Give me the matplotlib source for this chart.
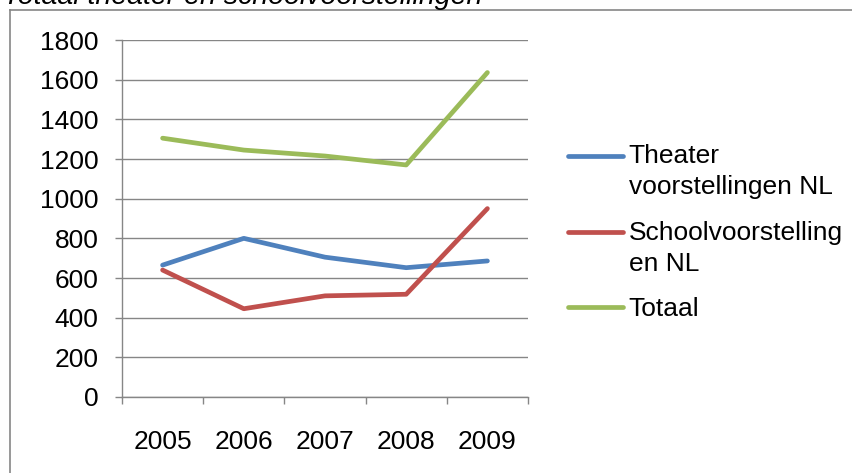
import matplotlib
matplotlib.use("Agg")
import matplotlib.pyplot as plt
from matplotlib.lines import Line2D
from matplotlib.legend_handler import HandlerLine2D

plt.rcParams['font.family'] = ['Liberation Sans', 'DejaVu Sans']

## Data
years = ['2005', '2006', '2007', '2008', '2009']
theater = [665, 800, 705, 652, 686]
school = [640, 445, 510, 518, 950]
totaal = [1305, 1245, 1215, 1170, 1636]
labels = ['Theater\nvoorstellingen NL', 'Schoolvoorstelling\nen NL', 'Totaal']
colors = ['#4F81BD', '#C0504D', '#9BBB59']
grid_col = '#868686'


# legend handle aligned with the first line of a two-line label
class TopLineHandler(HandlerLine2D):
    def __init__(self, shift=0.0, **kw):
        super().__init__(**kw)
        self.shift = shift

    def create_artists(self, legend, orig_handle, xdescent, ydescent,
                       width, height, fontsize, trans):
        arts = super().create_artists(legend, orig_handle, xdescent, ydescent,
                                      width, height, fontsize, trans)
        for a in arts:
            a.set_ydata([y + self.shift for y in a.get_ydata()])
        return arts


W, H = 853, 473
fig = plt.figure(figsize=(W / 100, H / 100), dpi=100)
ax = fig.add_axes([122 / W, 1 - 397 / H, (528 - 122) / W, (397 - 40) / H])

x = range(len(years))
lines = []
for vals, lab, c in zip([theater, school, totaal], labels, colors):
    ln, = ax.plot(x, vals, color=c, lw=3.4, label=lab, solid_capstyle='round',
                  solid_joinstyle='round')
    lines.append(ln)

ax.set_xlim(-0.5, len(years) - 0.5)
ax.set_ylim(0, 1800)
ax.set_yticks(range(0, 1801, 200))
ax.yaxis.grid(True, color=grid_col, lw=1.0)
ax.set_axisbelow(True)

# category boundaries as major ticks, labels on minor ticks
ax.set_xticks([i - 0.5 for i in range(len(years) + 1)])
ax.set_xticklabels([])
ax.set_xticks(list(x), minor=True)
ax.set_xticklabels(years, minor=True)
ax.tick_params(axis='x', which='major', length=5, color=grid_col, width=1.0)
ax.tick_params(axis='x', which='minor', length=0, pad=24, labelsize=19)
ax.tick_params(axis='y', length=5, color=grid_col, width=1.0, pad=12, labelsize=19)

for s in ['top', 'right']:
    ax.spines[s].set_visible(False)
for s in ['left', 'bottom']:
    ax.spines[s].set_color(grid_col)
    ax.spines[s].set_linewidth(1.0)

hmap = {lines[0]: TopLineHandler(shift=11.6), lines[1]: TopLineHandler(shift=11.6)}
leg = ax.legend(handles=lines, loc='upper left', bbox_to_anchor=(568 / W, 1 - 144 / H),
                bbox_transform=fig.transFigure, frameon=False, fontsize=19,
                handlelength=2.1, handletextpad=0.2, labelspacing=0.82,
                borderaxespad=0, borderpad=0, handler_map=hmap)
for t in leg.get_texts():
    t.set_linespacing(1.37)

# outer frame (cropped chart area)
fig.add_artist(Line2D([10 / W, 10 / W], [1 - 10 / H, 0], color=grid_col, lw=1.2))
fig.add_artist(Line2D([10 / W, 1], [1 - 10 / H, 1 - 10 / H], color=grid_col, lw=1.2))

fig.text(0.003, 1 - 4.5 / H, 'Totaal theater en schoolvoorstellingen', fontsize=20.5,
         style='italic', ha='left', va='baseline')

fig.savefig('out.png', dpi=100)
